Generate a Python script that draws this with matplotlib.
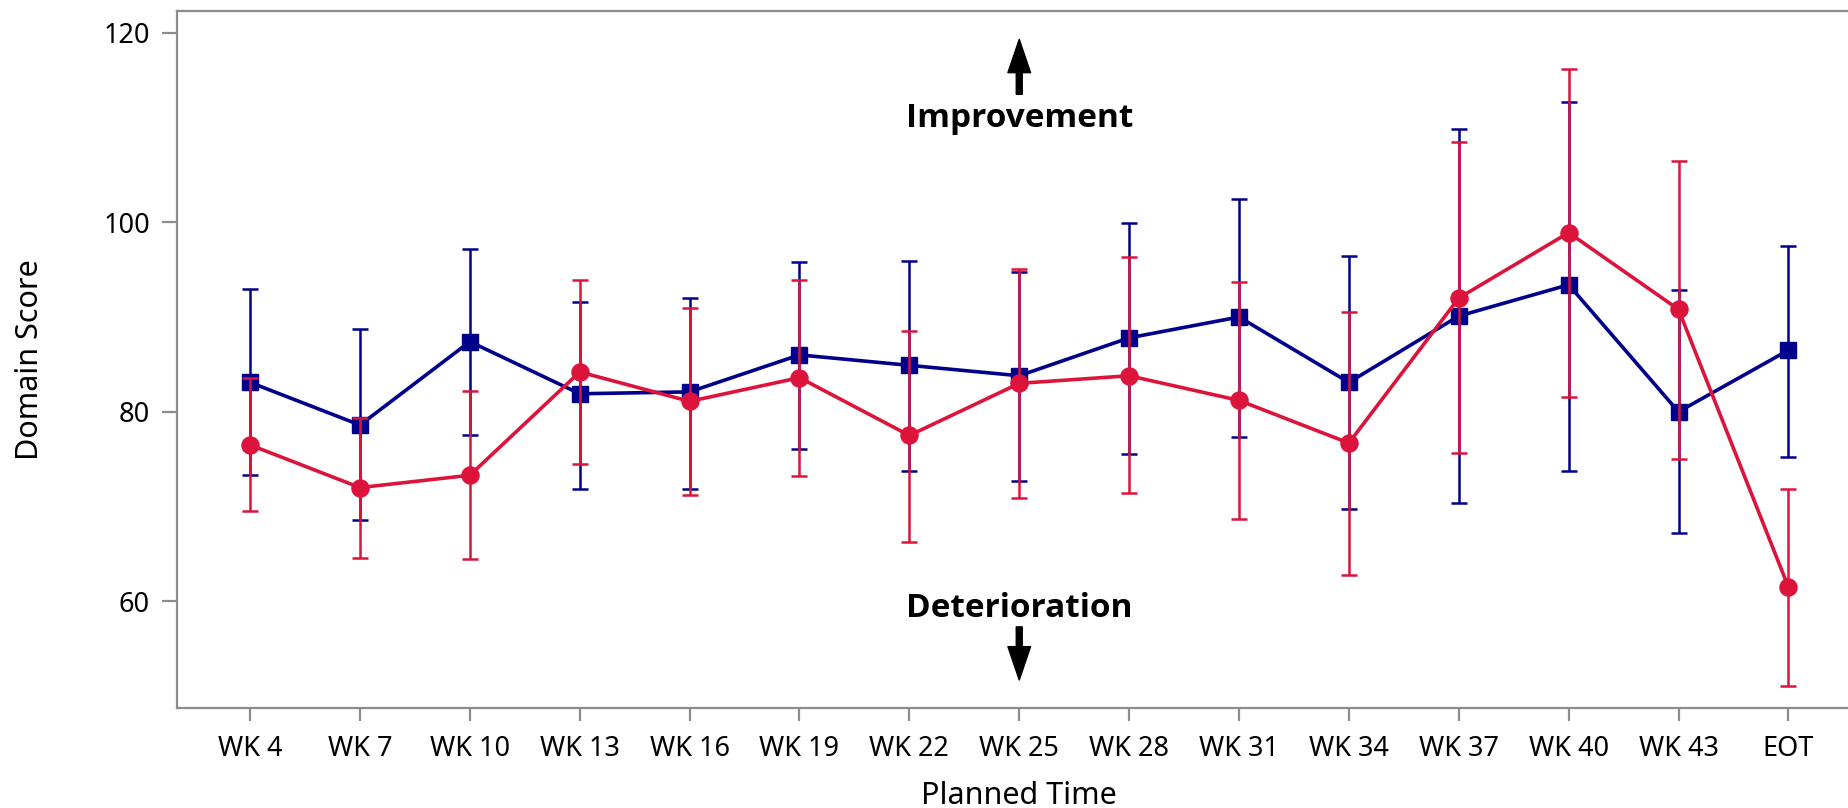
import matplotlib
matplotlib.use("Agg")
import matplotlib.pyplot as plt
import numpy as np

# ---- data ----
categories = ["WK 4", "WK 7", "WK 10", "WK 13", "WK 16", "WK 19", "WK 22", "WK 25",
              "WK 28", "WK 31", "WK 34", "WK 37", "WK 40", "WK 43", "EOT"]

blue_mean = [83.1, 78.6, 87.4, 81.9, 82.1, 86.0, 84.9, 83.8, 87.8, 90.0, 83.1, 90.1, 93.4, 80.0, 86.5]
blue_upper = [93.0, 88.7, 97.2, 91.6, 92.0, 95.8, 95.9, 94.7, 99.9, 102.5, 96.4, 109.8, 112.7, 92.8, 97.5]
blue_lower = [73.3, 68.6, 77.5, 71.9, 71.9, 76.1, 73.8, 72.7, 75.5, 77.3, 69.7, 70.4, 73.8, 67.2, 75.2]

red_mean = [76.5, 72.0, 73.3, 84.2, 81.1, 83.6, 77.5, 83.0, 83.8, 81.2, 76.7, 92.0, 98.9, 90.8, 61.5]
red_upper = [83.6, 79.3, 82.2, 93.9, 91.0, 93.9, 88.5, 95.1, 96.3, 93.7, 90.5, 108.5, 116.2, 106.5, 71.9]
red_lower = [69.5, 64.6, 64.5, 74.5, 71.2, 73.2, 66.3, 70.9, 71.4, 68.7, 62.8, 75.7, 81.6, 75.0, 51.1]

yticks = [60, 80, 100, 120]

BLUE = "#00008B"
RED = "#DC143C"
GRAY = "#8C8C8C"

plt.rcParams['font.family'] = ['Noto Sans', 'DejaVu Sans']

W, H = 1848, 808
fig = plt.figure(figsize=(W / 100, H / 100), dpi=100)
left_px, right_px, top_px, bot_px = 176.5, 1862.0, 11.0, 708.3
ax = fig.add_axes([left_px / W, 1 - bot_px / H, (right_px - left_px) / W, (bot_px - top_px) / H])

x = np.arange(len(categories))

def draw(mean, lo, hi, color, marker, ms, z):
    mean = np.array(mean); lo = np.array(lo); hi = np.array(hi)
    ax.errorbar(x, mean, yerr=[mean - lo, hi - mean], fmt='none', ecolor=color,
                elinewidth=1.8, capsize=6, capthick=1.8, zorder=z)
    ax.plot(x, mean, color=color, lw=2.6, marker=marker, ms=ms, mec=color, mfc=color, zorder=z + 0.5)

draw(blue_mean, blue_lower, blue_upper, BLUE, 's', 11, 3)
draw(red_mean, red_lower, red_upper, RED, 'o', 12.3, 4)

ax.set_xlim(-0.67, 14.67)
ax.set_ylim(48.71, 122.29)
ax.set_xticks(x)
ax.set_xticklabels(categories)
ax.set_yticks(yticks)

for s in ["left", "bottom", "top", "right"]:
    ax.spines[s].set_color(GRAY)
    ax.spines[s].set_linewidth(1.6)
ax.spines["right"].set_visible(False)

ax.tick_params(axis='y', length=11, width=1.6, color=GRAY, labelsize=19.5, pad=8, labelcolor='black')
ax.tick_params(axis='x', length=9, width=1.6, color=GRAY, labelsize=19.5, pad=10, labelcolor='black')

ax.set_xlabel("Planned Time", fontsize=22, labelpad=13.5)
ax.set_ylabel("Domain Score", fontsize=22, labelpad=42)

# annotations
bold_family = ['Open Sans', 'DejaVu Sans']
xc = 7
ax.annotate("", xy=(xc, 119.3), xytext=(xc, 113.5),
            arrowprops=dict(facecolor='black', edgecolor='black', width=4.3, headwidth=16.3,
                            headlength=24, shrink=0))
ax.text(xc, 110.1, "Improvement", ha='center', va='baseline', fontsize=24,
        fontweight='bold', family=bold_family)
ax.annotate("", xy=(xc, 51.7), xytext=(xc, 57.3),
            arrowprops=dict(facecolor='black', edgecolor='black', width=4.3, headwidth=16.3,
                            headlength=24, shrink=0))
ax.text(xc, 58.3, "Deterioration", ha='center', va='baseline', fontsize=24,
        fontweight='bold', family=bold_family)

fig.savefig("out.png", dpi=100)
